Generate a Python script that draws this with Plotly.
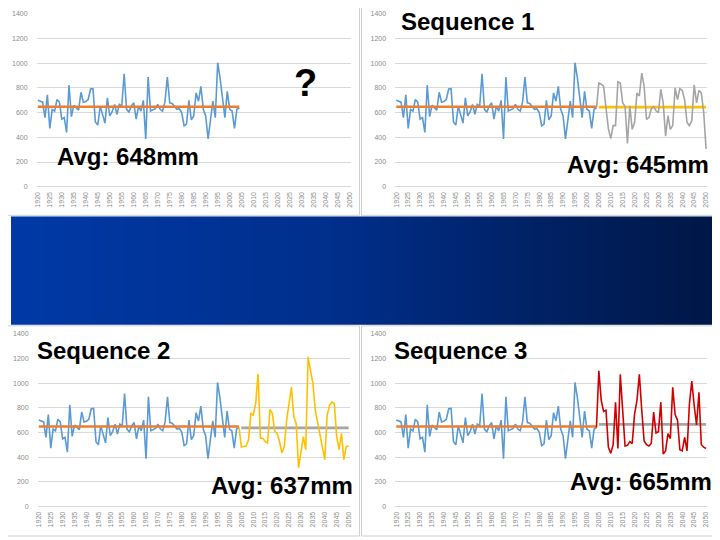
import plotly.graph_objects as go

# Annual rainfall (mm): observed record and three generated future sequences
hist_years = list(range(1920, 2005))
hist_rain = [
    700, 693, 685, 560, 744, 472, 627, 613, 707, 685,
    547, 560, 440, 824, 568, 659, 637, 621, 765, 685,
    690, 707, 792, 795, 525, 499, 653, 573, 515, 720,
    573, 608, 667, 587, 667, 653, 915, 627, 605, 653,
    680, 547, 653, 613, 700, 387, 888, 613, 621, 632,
    667, 627, 613, 685, 888, 680, 675, 648, 627, 632,
    600, 493, 507, 699, 541, 573, 760, 693, 813, 627,
    573, 387, 547, 693, 560, 1005, 880, 707, 560, 773,
    627, 613, 472, 627, 640]

future_years = list(range(2005, 2051))
seq1 = [840, 830, 815, 640, 470, 390, 495, 495, 850, 840,
        680, 650, 350, 655, 465, 520, 760, 735, 920, 815,
        545, 560, 630, 650, 615, 600, 790, 680, 410, 575,
        465, 495, 800, 705, 795, 780, 705, 520, 495, 535,
        825, 680, 780, 760, 600, 305]
seq2 = [481, 486, 490, 540, 753, 740, 834, 1074, 553, 553,
        526, 515, 786, 753, 606, 593, 526, 433, 486, 700,
        850, 967, 727, 673, 313, 460, 566, 460, 1213, 1100,
        1000, 780, 673, 566, 486, 379, 740, 820, 847, 834,
        566, 460, 593, 379, 486, 490]
seq3 = [1100, 860, 770, 780, 480, 430, 500, 845, 470, 1070,
        780, 490, 495, 525, 510, 750, 860, 1070, 780, 530,
        500, 490, 510, 765, 595, 605, 845, 425, 450, 590,
        550, 965, 745, 700, 460, 450, 560, 450, 830, 1015,
        820, 660, 925, 500, 480, 470]

hist_avg = 648
seq_avgs = [645, 637, 665]
panel_titles = ["", "Sequence 1", "Sequence 2", "Sequence 3"]
avg_labels = ["Avg: 648mm", "Avg: 645mm", "Avg: 637mm", "Avg: 665mm"]

BLUE = "#5B9BD5"
ORANGE = "#ED7D31"
GREY = "#A5A5A5"
YELLOW = "#FFC000"
RED = "#D00000"

# the page body has an 8px margin, so lay out in page pixels and shift
OFF = 8
W, H = 720 - OFF, 540 - OFF


def px(x):
    return (x - OFF) / W


def py(y):
    return 1 - (y - OFF) / H


doms = [
    ([px(33.8), px(350.2)], [py(185), py(10)]),
    ([px(394.8), px(709.2)], [py(185), py(10)]),
    ([px(34.8), px(349.2)], [py(509), py(334)]),
    ([px(394.8), px(709.2)], [py(509), py(334)]),
]

fig = go.Figure()

# blue gradient band across the middle
fig.add_trace(go.Heatmap(
    z=[[0, 1], [0, 1]], x=[0, 1], y=[0, 1], zsmooth="best",
    colorscale=[[0, "#0039A6"], [0.45, "#002F8C"], [0.7, "#00236A"], [1, "#001745"]],
    showscale=False, hoverinfo="skip", xaxis="x5", yaxis="y5"))

futures = [seq1, seq2, seq3]
fut_colors = [GREY, YELLOW, RED]
fut_avg_colors = [YELLOW, GREY, GREY]

for i in range(4):
    xa = "x" if i == 0 else f"x{i + 1}"
    ya = "y" if i == 0 else f"y{i + 1}"
    fig.add_trace(go.Scatter(x=hist_years, y=hist_rain, mode="lines",
                             line=dict(color=BLUE, width=1.6), xaxis=xa, yaxis=ya))
    fig.add_trace(go.Scatter(x=[hist_years[0], hist_years[-1]], y=[hist_avg, hist_avg], mode="lines",
                             line=dict(color=ORANGE, width=2.6), xaxis=xa, yaxis=ya))
    if i > 0:
        fut = futures[i - 1]
        fig.add_trace(go.Scatter(x=[future_years[0], future_years[-1]],
                                 y=[seq_avgs[i - 1], seq_avgs[i - 1]], mode="lines",
                                 line=dict(color=fut_avg_colors[i - 1], width=2.6), xaxis=xa, yaxis=ya))
        fig.add_trace(go.Scatter(x=[hist_years[-1]] + future_years, y=[hist_rain[-1]] + fut, mode="lines",
                                 line=dict(color=fut_colors[i - 1], width=1.6), xaxis=xa, yaxis=ya))

tick_font = dict(family="Liberation Sans, Arial", size=7, color="#8C8C8C")
layout = dict(
    width=W, height=H, margin=dict(l=0, r=0, t=0, b=0),
    paper_bgcolor="white", plot_bgcolor="rgba(0,0,0,0)", showlegend=False,
    xaxis5=dict(domain=[0, 1], range=[0, 1], visible=False, anchor="y5"),
    yaxis5=dict(domain=[py(325), py(215)], range=[0, 1], visible=False, anchor="x5"),
)
for i, (dx, dy) in enumerate(doms):
    k = "" if i == 0 else str(i + 1)
    layout["xaxis" + k] = dict(
        domain=dx, anchor="y" + k, range=[1919.5, 2050.5], tick0=1920, dtick=5,
        tickangle=-90, tickfont=tick_font, showgrid=False, zeroline=False,
        showline=False, ticks="", ticklabelstandoff=3)
    layout["yaxis" + k] = dict(
        domain=dy, anchor="x" + k, range=[0, 1400], dtick=200, tickfont=tick_font,
        showgrid=True, gridcolor="#D9D9D9", gridwidth=1, zeroline=True,
        zerolinecolor="#D9D9D9", zerolinewidth=1, showline=False, ticks="",
        ticklabelstandoff=8)
fig.update_layout(**layout)

# thin panel frames
frames = [(0, 359, 0, 214), (361, 719, 0, 214), (0, 359, 326, 539), (361, 719, 326, 539)]
for x0, x1, y0, y1 in frames:
    fig.add_shape(type="rect", xref="paper", yref="paper",
                  x0=px(x0), x1=px(x1), y0=py(y1), y1=py(y0),
                  line=dict(color="#D0D0D0", width=1), fillcolor="rgba(0,0,0,0)", layer="below")

big = dict(family="Liberation Sans, Arial", size=24, color="black")
title_pos = [None, (468, 18), (101, 351), (461, 351)]
avg_pos = [(126, 154), (639, 163), (281, 488), (642, 484)]
for i in range(4):
    if title_pos[i]:
        fig.add_annotation(x=px(title_pos[i][0]), y=py(title_pos[i][1]), xref="paper", yref="paper",
                           xanchor="center", yanchor="middle",
                           text="<b>%s</b>" % panel_titles[i], showarrow=False, font=big)
    fig.add_annotation(x=px(avg_pos[i][0]), y=py(avg_pos[i][1]), xref="paper", yref="paper",
                       xanchor="center", yanchor="middle",
                       text="<b>%s</b>" % avg_labels[i], showarrow=False, font=big)
fig.add_annotation(x=px(305), y=py(80), xref="paper", yref="paper", text="<b>?</b>",
                   xanchor="center", yanchor="middle", showarrow=False,
                   font=dict(family="Liberation Sans, Arial", size=38, color="black"))

fig.write_html("out.html")
